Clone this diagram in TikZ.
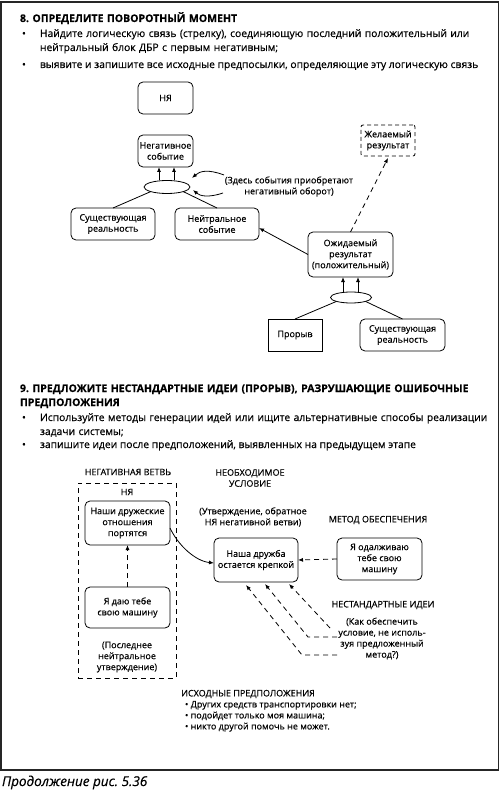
\documentclass[tikz,border=0pt]{standalone}
\usepackage{fontspec}
\setmainfont{Open Sans}[FakeBold=0.4]
\usetikzlibrary{arrows.meta,shapes.geometric}
\hyphenpenalty=10000
\frenchspacing
\newcommand\bodyfont{\fontsize{10.3}{14}\selectfont}
\newcommand\headfont{\bfseries\fontsize{10.5}{14}\selectfont}
\newcommand\diafont{\fontsize{9}{11}\selectfont}
\begin{document}
\begin{tikzpicture}[x=1pt,y=-1pt,
  every node/.style={inner sep=0pt, outer sep=0pt},
  dtext/.style={font=\diafont, align=center},
  rbox/.style={draw, rounded corners=5pt, line width=0.8pt, dtext},
  sbox/.style={draw, line width=0.8pt, dtext},
  dbox/.style={draw, rounded corners=2pt, line width=0.8pt, dash pattern=on 4pt off 3pt, dtext},
  oval/.style={draw, ellipse, line width=0.8pt},
  arr/.style={-{Latex[length=5pt,width=4pt]}, line width=0.8pt},
  darr/.style={arr, dash pattern=on 5pt off 4pt},
  plain/.style={line width=0.8pt},
  body/.style={anchor=base west, font=\bodyfont},
  para/.style={anchor=base west, font=\bodyfont, text width=460pt, align=left},
  head/.style={anchor=base west, font=\headfont, text width=470pt, align=left}
]
\useasboundingbox (0,0) rectangle (500,791);
\draw[line width=1.2pt, draw=black!85] (1,2) rectangle (498.5,770);

% ---------- Section 8 text
\node[head] (h8) at (20,22) {8. ОПРЕДЕЛИТЕ ПОВОРОТНЫЙ МОМЕНТ};
\node[body] (b8a) at (22,37) {•};
\node[para] (t8a) at (40,37) {\makebox[438pt][s]{Найдите логическую связь (стрелку), соединяющую последний положительный или}\\нейтральный блок ДБР с первым негативным;};
\node[body] (b8b) at (22,68) {•};
\node[body] (t8b) at (40,68) {выявите и запишите все исходные предпосылки, определяющие эту логическую связь};

% ---------- Section 8 diagram
\node[rbox, minimum width=55pt, minimum height=32pt] (nya1) at (165.5,98) {НЯ};
\node[rbox, minimum width=55pt, minimum height=32pt] (neg) at (165.5,151) {Негативное\\событие};
\node[oval, minimum width=46pt, minimum height=13pt] (ell1) at (167,187) {};
\node[rbox, minimum width=84pt, minimum height=32pt] (sus1) at (113,224) {Существующая\\реальность};
\node[rbox, minimum width=84pt, minimum height=32pt] (neut) at (217,224) {Нейтральное\\событие};
\node[dtext] (lbl8) at (289,186.5) {(Здесь события приобретают\\негативный оборот)};
\node[dbox, minimum width=54pt, minimum height=31pt] (zhel) at (388,140.5) {Желаемый\\результат};
\node[rbox, minimum width=85pt, minimum height=45pt] (ozh) at (350.5,254.5) {Ожидаемый\\результат\\(положительный)};
\node[oval, minimum width=41pt, minimum height=11pt] (ell2) at (351,297.5) {};
\node[sbox, minimum width=54pt, minimum height=32pt] (pror) at (295,335) {Прорыв};
\node[rbox, minimum width=85pt, minimum height=32pt] (sus2) at (402.5,335) {Существующая\\реальность};

\draw[arr] ([xshift=-8pt]ell1.north) -- ([xshift=-8pt]ell1.north |- neg.south);
\draw[arr] ([xshift=7pt]ell1.north) -- ([xshift=7pt]ell1.north |- neg.south);
\draw[plain] (ell1.south west) -- (sus1.north);
\draw[plain] (ell1.south east) -- (neut.north);
\coordinate (c8a) at (224,175);
\coordinate (c8b) at (223,193);
\draw[arr] (c8a) .. controls (208,169) and (200,171) .. ([shift={(2pt,9pt)}]ell1.east);
\draw[arr] (c8b) .. controls (208,198) and (200,196) .. ([shift={(3pt,-3pt)}]ell1.east);
\draw[arr] (ozh.west) -- ([yshift=-4pt]neut.east);
\draw[darr] (ozh.north) -- ([yshift=-2pt]zhel.south);
\draw[arr] ([xshift=-8pt]ell2.north) -- ([xshift=-8pt]ell2.north |- ozh.south);
\draw[arr] ([xshift=7pt]ell2.north) -- ([xshift=7pt]ell2.north |- ozh.south);
\draw[plain] (ell2.south west) -- (pror.north);
\draw[plain] (ell2.south east) -- (sus2.north);

% ---------- Section 9 text
\node[head] (h9) at (20,392) {\makebox[458pt][s]{9. ПРЕДЛОЖИТЕ НЕСТАНДАРТНЫЕ ИДЕИ (ПРОРЫВ), РАЗРУШАЮЩИЕ ОШИБОЧНЫЕ}\\ПРЕДПОЛОЖЕНИЯ};
\node[body] (b9a) at (22,421) {•};
\node[para] (t9a) at (40,421) {\makebox[438pt][s]{Используйте методы генерации идей или ищите альтернативные способы реализации}\\задачи системы;};
\node[body] (b9b) at (22,448) {•};
\node[body] (t9b) at (40,448) {запишите идеи после предположений, выявленных на предыдущем этапе};

% ---------- Section 9 diagram
\node[dtext] (negv) at (128,472) {НЕГАТИВНАЯ ВЕТВЬ};
\node[draw, line width=0.8pt, dash pattern=on 5pt off 4pt, minimum width=98pt, minimum height=195pt] (frame9) at (127,580.5) {};
\node[dtext] (nya2) at (127,492) {НЯ};
\node[rbox, minimum width=85pt, minimum height=44pt] (nash) at (127.5,523) {Наши дружеские\\отношения\\портятся};
\node[rbox, minimum width=85pt, minimum height=41pt] (ya) at (127.5,607.5) {Я даю тебе\\свою машину};
\node[dtext] (posl) at (127,657) {(Последнее\\нейтральное\\утверждение)};
\draw[darr] (ya.north) -- (nash.south);

\node[dtext] (neob) at (250,478) {НЕОБХОДИМОЕ\\УСЛОВИЕ};
\node[dtext] (utv) at (253,517) {(Утверждение, обратное\\НЯ негативной ветви)};
\node[rbox, minimum width=84pt, minimum height=44pt] (druzh) at (256,560) {Наша дружба\\остается крепкой};
\node[dtext] (metod) at (378,520) {МЕТОД ОБЕСПЕЧЕНИЯ};
\node[rbox, minimum width=85pt, minimum height=42pt] (odal) at (379.5,559) {Я одалживаю\\тебе свою\\машину};
\draw[darr] (odal.west) -- (druzh.east);
\draw[arr] ([yshift=-5pt]nash.east) .. controls (178,545) and (195,561) .. ([yshift=-3pt]druzh.west);

\node[dtext] (nest) at (383,605) {НЕСТАНДАРТНЫЕ ИДЕИ};
\node[dtext] (kak) at (382,638.5) {(Как обеспечить\\условие, не исполь-\\зуя предложенный\\метод?)};
\coordinate (ta) at (330,628);
\coordinate (tb) at (337,637);
\coordinate (eb) at (308,637);
\coordinate (tc) at (337,655);
\coordinate (ec) at (302,655);
\draw[darr] (ta) -- ([shift={(33pt,-2pt)}]druzh.south);
\draw[darr] (tb) -- (eb) -- ([shift={(9pt,-2pt)}]druzh.south);
\draw[darr] (tc) -- (ec) -- ([shift={(-10pt,-3pt)}]druzh.south);

\node[dtext] (ish) at (248,694) {ИСХОДНЫЕ ПРЕДПОЛОЖЕНИЯ};
\node[dtext, align=left, anchor=north west] (ishl) at (185,701) {• Других средств транспортировки нет;\\• подойдет только моя машина;\\• никто другой помочь не может.};

% ---------- caption
\node[anchor=base west, font=\itshape\fontsize{13.5}{15}\selectfont] (cap) at (2,786) {Продолжение рис. 5.36};
\end{tikzpicture}
\end{document}
